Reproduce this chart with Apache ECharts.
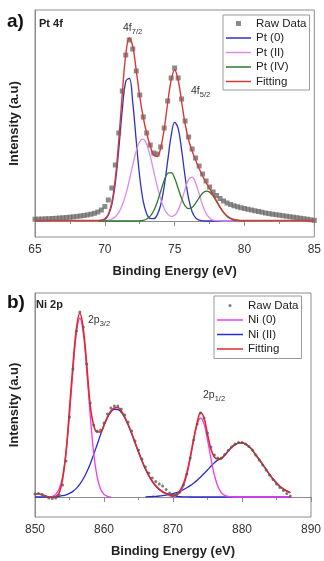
<!DOCTYPE html>
<html>
<head>
<meta charset="utf-8">
<script src="https://cdn.jsdelivr.net/npm/echarts@6/dist/echarts.min.js"></script>
<style>
  html, body { margin: 0; padding: 0; background: #fff; }
  #chart { width: 324px; height: 561px; }
</style>
</head>
<body>
<div id="chart"></div>
<script>
// ---- a) Pt 4f ----
const ptEnergy = [
  65, 65.25, 65.5, 65.75, 66, 66.25, 66.5, 66.75, 67, 67.25, 67.5, 67.75, 68, 68.25, 68.5, 68.75, 69, 69.25, 69.5, 69.75,
  70, 70.25, 70.5, 70.75, 71, 71.25, 71.5, 71.75, 72, 72.25, 72.5, 72.75, 73, 73.25, 73.5, 73.75, 74, 74.25, 74.5, 74.75,
  75, 75.25, 75.5, 75.75, 76, 76.25, 76.5, 76.75, 77, 77.25, 77.5, 77.75, 78, 78.25, 78.5, 78.75, 79, 79.25, 79.5, 79.75,
  80, 80.25, 80.5, 80.75, 81, 81.25, 81.5, 81.75, 82, 82.25, 82.5, 82.75, 83, 83.25, 83.5, 83.75, 84, 84.25, 84.5, 84.75,
  85
]
const ptRaw = [
  1.8, 1.9, 2.0, 2.2, 2.3, 2.5, 2.7, 3.0, 3.2, 3.5, 3.8, 4.2, 4.6, 5.0, 5.5, 6.1, 6.8, 7.7, 9.0, 11.0,
  14.5, 21, 33, 56, 88, 130, 166, 181, 172, 150, 126, 104, 88, 76, 68, 67, 74, 93, 120, 143,
  153, 143, 122, 100, 84, 72, 63, 55, 47, 40, 34, 29, 25.5, 22.5, 20, 18, 16.5, 15.2, 14.2, 13.3,
  12.5, 11.7, 11.0, 10.2, 9.5, 8.8, 8.0, 7.4, 6.8, 6.3, 5.8, 5.3, 4.8, 4.3, 3.8, 3.3, 2.8, 2.3, 1.8, 1.2,
  0.6
]
const ptFit = [
  0.5, 0.5, 0.5, 0.5, 0.5, 0.5, 0.5, 0.5, 0.5, 0.5, 0.5, 0.5, 0.5, 0.5, 0.5, 0.5, 0.5, 0.5, 0.6, 1.0,
  2.3, 6.8, 18.5, 42.5, 81, 127.5, 166.5, 183, 174.5, 150.5, 124.5, 103.5, 87.5, 75, 66, 64.5, 73, 92, 118, 141,
  151, 141, 119, 97, 81, 70, 61, 52.5, 45, 38.5, 32.5, 26.5, 20.2, 14, 8.9, 5.2, 2.9, 1.6, 1.0, 0.5,
  0.5, 0.5, 0.5, 0.5, 0.5, 0.5, 0.5, 0.5, 0.5, 0.5, 0.5, 0.5, 0.5, 0.5, 0.5, 0.5, 0.5, 0.5, 0.5, 0.5,
  0.5
]
// fitted components, 69.5 .. 80 eV
const ptCompEnergy = ptEnergy.slice(18, 61)
const ptPt0 = [
  0, 0.4, 1.6, 5.7, 16.3, 38.0, 72.1, 111.3, 139.7, 142.6, 118.4, 80.0, 43.9, 19.6, 7.1, 2.6, 2.4, 6.1, 16.0, 34.4,
  60.1, 85.3, 98.6, 92.7, 70.9, 44.0, 22.3, 9.2, 3.1, 0.8, 0.2, 0, 0, 0, 0, 0, 0, 0, 0, 0,
  0, 0, 0
]
const ptPt2 = [
  0, 0.1, 0.3, 0.8, 1.9, 4.2, 8.6, 15.9, 26.6, 40.5, 55.9, 70.0, 79.5, 81.8, 76.4, 64.8, 49.7, 34.7, 21.9, 12.5,
  6.9, 4.6, 5.7, 10.9, 20.3, 31.9, 41.3, 43.8, 38.1, 27.2, 15.9, 7.6, 3.0, 1.0, 0.3, 0.1, 0, 0, 0, 0,
  0, 0, 0
]
const ptPt4 = [
  0, 0, 0, 0, 0, 0, 0, 0, 0, 0, 0, 0, 0.2, 0.7, 2.0, 4.8, 10.2, 18.8, 29.7, 40.5,
  47.7, 48.4, 42.7, 32.7, 22.5, 15.2, 12.4, 13.7, 17.9, 23.2, 27.7, 29.9, 28.9, 25.1, 19.4, 13.4, 8.3, 4.6, 2.3, 1.0,
  0.4, 0.1, 0
]

// ---- b) Ni 2p ----
const niEnergy = [
  850, 850.5, 851, 851.5, 852, 852.5, 853, 853.5, 854, 854.5,
  855, 855.5, 856, 856.5, 857, 857.5, 858, 858.5, 859, 859.5,
  860, 860.5, 861, 861.5, 862, 862.5, 863, 863.5, 864, 864.5,
  865, 865.5, 866, 866.5, 867, 867.5, 868, 868.5, 869, 869.5,
  870, 870.5, 871, 871.5, 872, 872.5, 873, 873.5, 874, 874.5,
  875, 875.5, 876, 876.5, 877, 877.5, 878, 878.5, 879, 879.5,
  880, 880.5, 881, 881.5, 882, 882.5, 883, 883.5, 884, 884.5,
  885, 885.5, 886, 886.5, 887
]
const niRaw = [
  3, 3.5, 2.5, 0.5, -1.0, -1.5, -1.0, 2, 12, 36,
  80, 128, 166, 185, 170, 133, 94, 72, 66, 67,
  74, 83, 89, 91, 91, 88, 82, 75, 66, 56,
  47, 38, 30, 24, 19, 15.5, 13, 11, 7.5, 4,
  1.5, 2, 5, 12, 23, 39, 57, 73, 84, 79,
  64, 50, 42, 39, 39, 42.5, 46.5, 50, 53, 54.5,
  54.5, 53, 50.5, 47, 42, 37, 32, 27, 22, 17.5,
  13, 9.5, 6.5, 3.5, 1
]
const niFit = [
  2.5, 3.2, 2.5, 1.0, 0, -0.3, 0.5, 4, 18, 45,
  88, 132, 168, 184, 168, 132, 92, 72, 65, 65,
  72, 80, 86, 89, 89.5, 86, 80, 72.5, 64, 54.5,
  45.2, 36.3, 28.3, 21.4, 15.7, 11.2, 7.8, 5.3, 3.5, 2.3,
  1.6, 2.8, 6.2, 13, 24, 40, 58, 74, 84.5, 79,
  63, 48, 40, 38, 38.5, 42, 46, 50, 52.5, 54,
  54.3, 53, 50.5, 47, 42, 37.5, 32.5, 27.5, 22.5, 18,
  14, 10.5, 8, 6, 4.3
]
const niNi0 = [
  null, null, null, null, null, 0.7, 2.6, 7.9, 20.4, 44.6,
  82, 126.5, 164, 179, 164, 126.5, 82, 44.6, 20.4, 7.9,
  2.6, 0.7, 0, null, null, null, null, null, null, null,
  null, null, null, null, null, null, null, null, null, 0.1,
  0.5, 1.6, 4.4, 10.7, 22.0, 38.4, 57.4, 72.9, 79, 72.9,
  57.4, 38.4, 22.0, 10.7, 4.4, 1.6, 0.5, 0.1, 0, 0,
  0, 0, 0, 0, 0, 0, 0, 0, 0, 0,
  0, 0, 0, 0, 0
]
const niNi2a = [
  0, 0, 0, 0, 0.1, 0.2, 0.4, 0.7, 1.3, 2.2,
  3.6, 5.6, 8.6, 12.8, 18.2, 25.0, 33.1, 42.4, 52.3, 62.3,
  71.6, 79.4, 85.0, 87.7, 87.5, 84.6, 79.3, 72.0, 63.5, 54.2,
  44.9, 36.1, 28.1, 21.2, 15.5, 11.0, 7.6, 5.1, 3.3, 2.1,
  1.3, 0.7, 0.4, 0.2, 0.1, 0, 0, 0, 0, 0,
  0, 0, 0, 0, 0, 0, 0, 0, 0, 0,
  0, 0, 0, 0, 0, 0, 0, 0, 0, 0,
  0, 0, 0, 0, 0
]
const niNi2b = [
  null, null, null, null, null, null, null, null, null, null,
  null, null, null, null, null, null, null, null, null, null,
  null, null, null, null, null, null, null, null, null, null,
  null, null, 0.2, 0.3, 0.5, 0.7, 1.0, 1.4, 1.9, 2.5,
  3.4, 4.4, 5.7, 7.3, 9.2, 11.4, 14.0, 16.8, 20.0, 23.5,
  27.0, 30.8, 34.3, 36.9, 38.3, 41.7, 45.8, 49.8, 52.3, 53.8,
  54.2, 53.0, 50.5, 47.0, 42.0, 37.5, 32.5, 27.5, 22.5, 18.0,
  14.0, 10.5, 8.0, 6.0, 4.3
]

const FONT = '"Liberation Sans", Arial, sans-serif'
const FRAME = '#8c8c8c'
// legend icons: plain line, small square, small dot
const LINE_ICON = 'path://M0,0H25V1.5H0Z'
const SQUARE_ICON = 'path://M0,0H1V1H0Z'
const DOT_ICON = 'path://M1,0.5A0.5,0.5,0,1,1,0,0.5A0.5,0.5,0,1,1,1,0.5Z'

function pairs (xs, ys) {
  return xs.map((x, i) => [x, ys[i]])
}

function energyAxis (gridIndex, min, max, interval) {
  return {
    type: 'value',
    gridIndex,
    min,
    max,
    interval,
    name: 'Binding Energy (eV)',
    nameLocation: 'middle',
    nameGap: 28,
    nameTextStyle: { fontFamily: FONT, fontSize: 13, fontWeight: 'bold', color: '#222' },
    axisLine: { lineStyle: { color: FRAME } },
    axisTick: { length: 5, lineStyle: { color: FRAME } },
    minorTick: { show: true, splitNumber: 2, length: 3, lineStyle: { color: FRAME } },
    axisLabel: { fontFamily: FONT, fontSize: 12, color: '#333', margin: 7 },
    splitLine: { show: false }
  }
}

function intensityAxis (gridIndex, min, max) {
  return {
    type: 'value',
    gridIndex,
    min,
    max,
    name: 'Intensity (a.u)',
    nameLocation: 'middle',
    nameGap: 14,
    nameTextStyle: { fontFamily: FONT, fontSize: 13, fontWeight: 'bold', color: '#222' },
    axisLine: { show: true, lineStyle: { color: FRAME } },
    axisTick: { show: false },
    axisLabel: { show: false },
    splitLine: { show: false }
  }
}

function curve (name, idx, xs, ys, color, width, z) {
  return {
    name,
    type: 'line',
    xAxisIndex: idx,
    yAxisIndex: idx,
    data: pairs(xs, ys),
    smooth: 0.4,
    symbol: 'none',
    lineStyle: { color, width },
    itemStyle: { color },
    z
  }
}

function peakLabel (main, sub, left, top) {
  return {
    type: 'text',
    left,
    top,
    style: {
      text: '{m|' + main + '}{s|' + sub + '}',
      fill: '#333',
      rich: {
        m: { fontFamily: FONT, fontSize: 10.5, lineHeight: 14, verticalAlign: 'middle', fill: '#333' },
        s: { fontFamily: FONT, fontSize: 7.5, lineHeight: 14, verticalAlign: 'bottom', fill: '#333' }
      }
    }
  }
}

const legendBase = {
  orient: 'vertical',
  itemGap: 2.5,
  borderColor: '#9a9a9a',
  borderWidth: 1,
  backgroundColor: '#fff',
  selectedMode: false,
  textStyle: { fontFamily: FONT, fontSize: 11.5, color: '#222' }
}

const chart = echarts.init(document.getElementById('chart'))

chart.setOption({
  animation: false,
  grid: [
    { left: 33, top: 10, width: 284, height: 227, show: true, borderColor: FRAME, borderWidth: 1 },
    { left: 33, top: 293, width: 280, height: 224, show: true, borderColor: FRAME, borderWidth: 1 }
  ],
  xAxis: [energyAxis(0, 65, 85, 5), energyAxis(1, 850, 890, 10)],
  yAxis: [intensityAxis(0, -16, 211), intensityAxis(1, -20, 204)],
  legend: [
    Object.assign({}, legendBase, {
      left: 223,
      top: 15,
      padding: [2.5, 3, 2.5, 3],
      itemWidth: 25,
      itemHeight: 5,
      data: [
        { name: 'Raw Data', icon: SQUARE_ICON },
        { name: 'Pt (0)', icon: LINE_ICON },
        { name: 'Pt (II)', icon: LINE_ICON },
        { name: 'Pt (IV)', icon: LINE_ICON },
        { name: 'Fitting', icon: LINE_ICON }
      ]
    }),
    Object.assign({}, legendBase, {
      left: 214,
      top: 296,
      padding: [3.5, 3, 3.5, 3],
      itemWidth: 26,
      itemHeight: 3,
      data: [
        { name: 'Raw Data ', icon: DOT_ICON },
        { name: 'Ni (0)', icon: 'path://M0,0H26V1.5H0Z' },
        { name: 'Ni (II)', icon: 'path://M0,0H26V1.5H0Z' },
        { name: 'Fitting ', icon: 'path://M0,0H26V1.5H0Z' }
      ],
      formatter: (n) => n.trim()
    })
  ],
  graphic: [
    { type: 'text', left: 7, top: 12, style: { text: 'a)', font: 'bold 19px ' + FONT, fill: '#111' } },
    { type: 'text', left: 39, top: 18, style: { text: 'Pt 4f', font: 'bold 11px ' + FONT, fill: '#222' } },
    { type: 'text', left: 7, top: 293, style: { text: 'b)', font: 'bold 19px ' + FONT, fill: '#111' } },
    { type: 'text', left: 36, top: 299, style: { text: 'Ni 2p', font: 'bold 11px ' + FONT, fill: '#222' } },
    peakLabel('4f', '7/2', 123, 23),
    peakLabel('4f', '5/2', 191, 86),
    peakLabel('2p', '3/2', 88, 315),
    peakLabel('2p', '1/2', 203, 390)
  ],
  series: [
    curve('Pt (0)', 0, ptCompEnergy, ptPt0, '#3030c4', 1.3, 2),
    curve('Pt (II)', 0, ptCompEnergy, ptPt2, '#e08ae8', 1.3, 2),
    curve('Pt (IV)', 0, ptCompEnergy, ptPt4, '#2c7a2c', 1.3, 2),
    {
      name: 'Raw Data',
      type: 'scatter',
      xAxisIndex: 0,
      yAxisIndex: 0,
      data: pairs(ptEnergy, ptRaw),
      symbol: 'rect',
      symbolSize: 5,
      itemStyle: { color: '#6e6e6e' },
      z: 3
    },
    curve('Fitting', 0, ptEnergy, ptFit, '#d63a3a', 1.4, 4),

    curve('Ni (II)', 1, niEnergy, niNi2a, '#2a2ad2', 1.3, 2),
    curve('Ni (II)', 1, niEnergy, niNi2b, '#2a2ad2', 1.3, 2),
    curve('Ni (0)', 1, niEnergy, niNi0, '#ee3cee', 1.3, 3),
    curve('Fitting ', 1, niEnergy, niFit, '#e42828', 1.6, 4),
    {
      name: 'Raw Data ',
      type: 'scatter',
      xAxisIndex: 1,
      yAxisIndex: 1,
      data: pairs(niEnergy, niRaw),
      symbol: 'circle',
      symbolSize: 3,
      itemStyle: { color: '#5a5a5a' },
      z: 5
    }
  ]
})
</script>
</body>
</html>
